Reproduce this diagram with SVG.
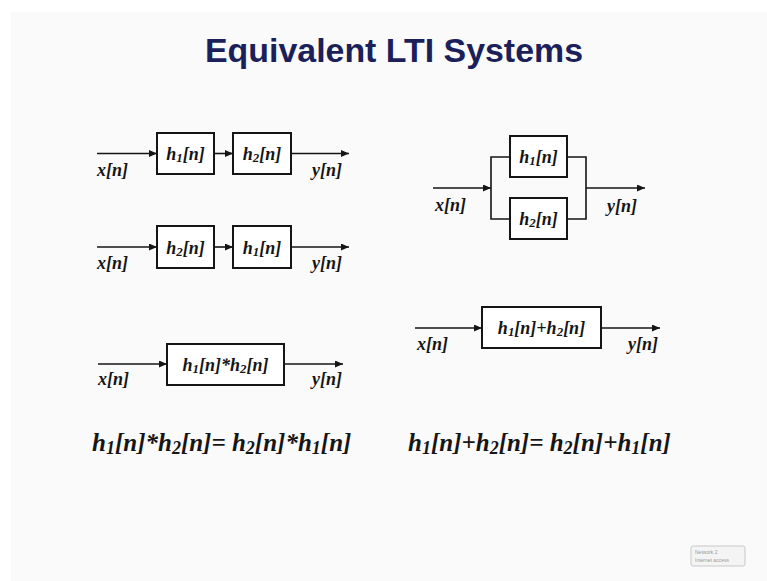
<svg xmlns="http://www.w3.org/2000/svg" width="767" height="581" viewBox="0 0 767 581">
  <style>
    .slide { fill: #fafafa; }
    .title { font-family: "Liberation Sans", Arial, sans-serif; font-weight: bold; font-size: 34px; fill: #1b1f5a; }
    .lbl { font-family: "Liberation Serif", "DejaVu Serif", "Times New Roman", serif; font-weight: bold; font-style: italic; font-size: 18px; fill: #151515; }
    .eq { font-family: "Liberation Serif", "DejaVu Serif", "Times New Roman", serif; font-weight: bold; font-style: italic; font-size: 25px; fill: #151515; }
    .sub { font-size: 0.72em; }
    .box { fill: #ffffff; stroke: #151515; stroke-width: 2; }
    .wire { fill: none; stroke: #151515; stroke-width: 1.6; }
    .arrow { fill: none; stroke: #151515; stroke-width: 1.6; marker-end: url(#head); }
    .badge { fill: #f4f4f4; stroke: #c8c8c8; stroke-width: 1; }
    .badge-text { font-family: "Liberation Sans", Arial, sans-serif; font-size: 5px; fill: #9a9a9a; }
  </style>
  <defs>
    <marker id="head" markerWidth="9" markerHeight="8" refX="8" refY="3.5" orient="auto" markerUnits="userSpaceOnUse">
      <path d="M0,0 L8,3.5 L0,7 z" fill="#151515"/>
    </marker>
  </defs>

  <!-- slide background -->
  <rect x="0" y="0" width="767" height="581" fill="#ffffff"/>
  <rect class="slide" x="11" y="12" width="756" height="569"/>

  <text class="title" x="394" y="62" text-anchor="middle" textLength="378" lengthAdjust="spacingAndGlyphs">Equivalent LTI Systems</text>

  <!-- connectors -->
  <g id="connectors">
    <!-- cascade h1 then h2 -->
    <line class="arrow" x1="97" y1="153.5" x2="157" y2="153.5"/>
    <line class="arrow" x1="214" y1="153.5" x2="233" y2="153.5"/>
    <line class="arrow" x1="291" y1="153.5" x2="349" y2="153.5"/>
    <!-- cascade h2 then h1 -->
    <line class="arrow" x1="97" y1="247" x2="157" y2="247"/>
    <line class="arrow" x1="214" y1="247" x2="233" y2="247"/>
    <line class="arrow" x1="291" y1="247" x2="349" y2="247"/>
    <!-- parallel -->
    <line class="arrow" x1="433" y1="188" x2="491" y2="188"/>
    <path class="wire" d="M510,157 H491 V219 H510"/>
    <path class="wire" d="M567,157 H586 V219 H567"/>
    <line class="arrow" x1="586" y1="188" x2="645" y2="188"/>
    <!-- sum system -->
    <line class="arrow" x1="415" y1="328" x2="482" y2="328"/>
    <line class="arrow" x1="601" y1="328" x2="660" y2="328"/>
    <!-- convolution system -->
    <line class="arrow" x1="98" y1="364" x2="167" y2="364"/>
    <line class="arrow" x1="284" y1="364" x2="343" y2="364"/>
  </g>

  <!-- cascade h1 -> h2 -->
  <g id="cascade1-h1">
    <rect class="box" x="157" y="133" width="57" height="41"/>
    <text class="lbl" x="185.5" y="160" text-anchor="middle">h<tspan class="sub" dy="2">1</tspan><tspan dy="-2">[n]</tspan></text>
  </g>
  <g id="cascade1-h2">
    <rect class="box" x="233" y="133" width="58" height="41"/>
    <text class="lbl" x="262" y="160" text-anchor="middle">h<tspan class="sub" dy="2">2</tspan><tspan dy="-2">[n]</tspan></text>
  </g>
  <g id="cascade1-io">
    <text class="lbl" x="97" y="176">x[n]</text>
    <text class="lbl" x="312" y="176">y[n]</text>
  </g>

  <!-- cascade h2 -> h1 -->
  <g id="cascade2-h2">
    <rect class="box" x="157" y="226" width="57" height="42"/>
    <text class="lbl" x="185.5" y="254" text-anchor="middle">h<tspan class="sub" dy="2">2</tspan><tspan dy="-2">[n]</tspan></text>
  </g>
  <g id="cascade2-h1">
    <rect class="box" x="233" y="226" width="58" height="42"/>
    <text class="lbl" x="262" y="254" text-anchor="middle">h<tspan class="sub" dy="2">1</tspan><tspan dy="-2">[n]</tspan></text>
  </g>
  <g id="cascade2-io">
    <text class="lbl" x="97" y="269">x[n]</text>
    <text class="lbl" x="312" y="269">y[n]</text>
  </g>

  <!-- parallel connection -->
  <g id="parallel-h1">
    <rect class="box" x="510" y="136" width="57" height="41"/>
    <text class="lbl" x="538.5" y="163" text-anchor="middle">h<tspan class="sub" dy="2">1</tspan><tspan dy="-2">[n]</tspan></text>
  </g>
  <g id="parallel-h2">
    <rect class="box" x="510" y="198" width="57" height="41"/>
    <text class="lbl" x="538.5" y="225" text-anchor="middle">h<tspan class="sub" dy="2">2</tspan><tspan dy="-2">[n]</tspan></text>
  </g>
  <g id="parallel-io">
    <text class="lbl" x="435" y="211">x[n]</text>
    <text class="lbl" x="607" y="212">y[n]</text>
  </g>

  <!-- equivalent sum system -->
  <g id="sum-system">
    <rect class="box" x="482" y="307" width="119" height="41"/>
    <text class="lbl" x="541.5" y="334" text-anchor="middle">h<tspan class="sub" dy="2">1</tspan><tspan dy="-2">[n]+h</tspan><tspan class="sub" dy="2">2</tspan><tspan dy="-2">[n]</tspan></text>
  </g>
  <g id="sum-io">
    <text class="lbl" x="417" y="350">x[n]</text>
    <text class="lbl" x="628" y="350">y[n]</text>
  </g>

  <!-- equivalent convolution system -->
  <g id="conv-system">
    <rect class="box" x="167" y="344" width="117" height="41"/>
    <text class="lbl" x="225.5" y="371" text-anchor="middle">h<tspan class="sub" dy="2">1</tspan><tspan dy="-2">[n]*h</tspan><tspan class="sub" dy="2">2</tspan><tspan dy="-2">[n]</tspan></text>
  </g>
  <g id="conv-io">
    <text class="lbl" x="98" y="385">x[n]</text>
    <text class="lbl" x="312" y="385">y[n]</text>
  </g>

  <!-- identities -->
  <g id="identities">
    <text class="eq" x="92" y="451">h<tspan class="sub" dy="3">1</tspan><tspan dy="-3">[n]*h</tspan><tspan class="sub" dy="3">2</tspan><tspan dy="-3">[n]= h</tspan><tspan class="sub" dy="3">2</tspan><tspan dy="-3">[n]*h</tspan><tspan class="sub" dy="3">1</tspan><tspan dy="-3">[n]</tspan></text>
    <text class="eq" x="408" y="451">h<tspan class="sub" dy="3">1</tspan><tspan dy="-3">[n]+h</tspan><tspan class="sub" dy="3">2</tspan><tspan dy="-3">[n]= h</tspan><tspan class="sub" dy="3">2</tspan><tspan dy="-3">[n]+h</tspan><tspan class="sub" dy="3">1</tspan><tspan dy="-3">[n]</tspan></text>
  </g>

  <!-- network status badge -->
  <g id="network-badge">
    <rect class="badge" x="691" y="546" width="54" height="20" rx="2"/>
    <text class="badge-text" x="695" y="554">Network  2</text>
    <text class="badge-text" x="695" y="562">Internet access</text>
  </g>
</svg>
